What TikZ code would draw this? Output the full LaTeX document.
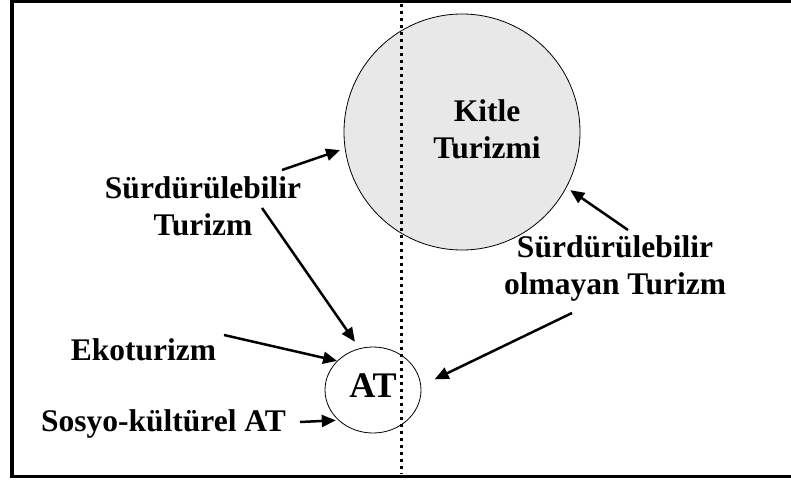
\documentclass[tikz,border=0pt]{standalone}
\usepackage{fontspec}
\setmainfont{Liberation Serif}
\usetikzlibrary{arrows.meta,shapes.geometric}
\definecolor{circfill}{HTML}{E8E8E8}
\tikzset{
  lbl/.style={font=\fontsize{31.5}{37}\selectfont\bfseries, inner sep=0pt, anchor=base, align=center},
  arr/.style={line width=2.5pt, -{Triangle[length=14pt,width=12pt]}},
  frame/.style={line width=3.5pt},
  divider/.style={line width=3pt, dash pattern=on 3pt off 4pt},
}
\begin{document}
\begin{tikzpicture}[x=1pt,y=-1pt]
\useasboundingbox (0,0) rectangle (791,481);
% frame (left, top, bottom)
\draw[frame] (800,1.75) -- (12,1.75) -- (12,476.5) -- (800,476.5);
% circles
\node[circle, draw, line width=0.8pt, fill=circfill, minimum size=236pt, inner sep=0pt] (kitle) at (462,132) {};
\node[ellipse, draw, line width=0.8pt, minimum width=96pt, minimum height=86pt, inner sep=0pt] (at) at (373,390) {};
% divider
\coordinate (dtop) at (401,4);
\coordinate (dbot) at (401,474);
\draw[divider] (dtop) -- (dbot);
% texts (base = baseline of last line)
\node[lbl] (kitletxt) at (487,159) {Kitle\\Turizmi};
\node[lbl] (sl) at (203,235) {Sürdürülebilir\\Turizm};
\node[lbl] (sr) at (615,294) {Sürdürülebilir\\olmayan Turizm};
\node[lbl] (eko) at (143.5,360) {Ekoturizm};
\node[lbl] (sosyo) at (163.5,431) {Sosyo-kültürel AT};
\node[lbl, font=\fontsize{36}{40}\selectfont\bfseries] (attxt) at (373,397) {AT};
% arrow start points
\coordinate (a1s) at (282,170);
\coordinate (a2s) at (262,208);
\coordinate (a3s) at (224,335);
\coordinate (a4s) at (300,422);
\coordinate (a5s) at (572,313);
\coordinate (a6s) at (628,230);
% arrows
\draw[arr, shorten >=5pt] (a1s) -- (kitle.188);
\draw[arr, shorten >=4.5pt] (a6s) -- (kitle.-28);
\draw[arr, shorten >=8pt] (a2s) -- (at.108);
\draw[arr] (a3s) -- (at.141);
\draw[arr, shorten >=2.5pt] (a4s) -- (at.221);
\draw[arr, shorten >=15pt] (a5s) -- (at.5);
\end{tikzpicture}
\end{document}
